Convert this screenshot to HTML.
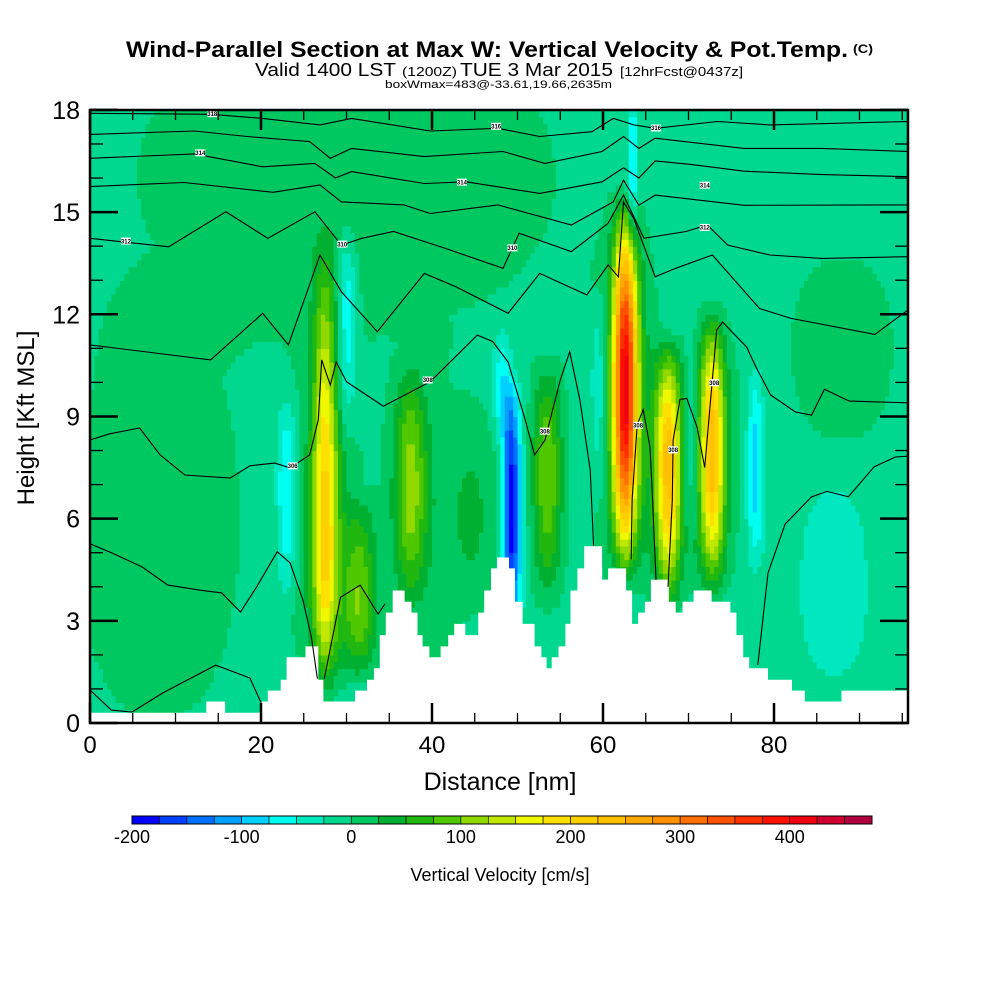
<!DOCTYPE html>
<html><head><meta charset="utf-8"><title>Wind-Parallel Section</title>
<style>
html,body{margin:0;padding:0;background:#fff;}
svg{display:block;font-family:"Liberation Sans",Arial,sans-serif;}
</style></head>
<body>
<svg id="chart" width="1000" height="1000" viewBox="0 0 1000 1000" xmlns="http://www.w3.org/2000/svg">
<rect x="0" y="0" width="1000" height="1000" fill="#fff"/>
<g>
<text x="126" y="57" font-size="22" font-weight="bold" textLength="722" lengthAdjust="spacingAndGlyphs">Wind-Parallel Section at Max W: Vertical Velocity &amp; Pot.Temp.</text>
<text x="853" y="53" font-size="12" font-weight="bold" textLength="20" lengthAdjust="spacingAndGlyphs">(C)</text>
<text x="255" y="76" font-size="18" textLength="141" lengthAdjust="spacingAndGlyphs">Valid 1400 LST</text>
<text x="402" y="76" font-size="13" textLength="55" lengthAdjust="spacingAndGlyphs">(1200Z)</text>
<text x="460" y="76" font-size="18" textLength="153" lengthAdjust="spacingAndGlyphs">TUE 3 Mar 2015</text>
<text x="620" y="76" font-size="13" textLength="123" lengthAdjust="spacingAndGlyphs">[12hrFcst@0437z]</text>
<text x="385" y="88" font-size="11" textLength="227" lengthAdjust="spacingAndGlyphs">boxWmax=483@-33.61,19.66,2635m</text>
</g>
<defs><clipPath id="plotclip"><rect x="90" y="110" width="818" height="613"/></clipPath></defs>
<g id="field" clip-path="url(#plotclip)"></g>
<g id="terrain"></g>
<g id="contours" clip-path="url(#plotclip)"></g>
<g id="axes"></g>
<g id="colorbar"></g>
<text x="500" y="790" font-size="25" text-anchor="middle">Distance [nm]</text>
<text transform="translate(34,418) rotate(-90)" font-size="24" text-anchor="middle">Height [Kft MSL]</text>
<text x="500" y="881" font-size="18" text-anchor="middle">Vertical Velocity [cm/s]</text>
</svg>
<script>
// ---- data ----
const levelColors = ["#0000ff","#0040ff","#0070ff","#00a0ff","#00d0ff","#00fff0","#00e8c0","#00d890","#00c860","#00b030","#20b810","#50c800","#90d800","#c0e800","#f0f800","#ffe000","#ffd000","#ffc000","#ffa800","#ff9000","#ff7000","#ff5000","#ff3000","#ff1000","#f00010","#d00030","#b00040"];
const levelMin = -200;
const levelStep = 25;
const cbTicks = [-200,-100,0,100,200,300,400];
const xTicks = [0,20,40,60,80];
const yTicks = [0,3,6,9,12,15,18];
const backgroundW = -10;
// features: center distance (nm), width (nm), base/peak/top height (kft), amplitude (cm/s)
const featX    = [8, 30, 87, 88, 40, 27.5, 23, 30, 31.5, 37.5, 49.3, 48.2, 53.5, 62.6, 63.5, 67.6, 72.8, 70.3, 77.8, 59.5, 45, 27.5, 62.6, 70];
const featSX   = [7, 18, 3.5, 5, 4, 1.0, 0.8, 0.8, 1.4, 1.3, 0.75, 0.8, 1.2, 1.0, 0.4, 1.0, 1.0, 0.6, 0.7, 0.7, 2, 2.5, 2.5, 4];
const featZB   = [-2, 10, 0, 7, 0, 0.5, 3, 8, 1, 3, 1.5, 8, 3, 4, 13, 3, 3.5, 5, 4, 6, 3, 0.5, 3, 3];
const featZP   = [6, 16, 4, 11, 6, 5.5, 7, 12, 3.5, 7, 6.5, 10, 7.5, 10, 16.5, 7.5, 8, 8, 7.5, 10, 6, 5, 9, 8];
const featZT   = [14, 22, 8.5, 15, 12, 15, 10, 15, 7, 11, 10.5, 12, 11, 15.8, 19, 11.5, 12.5, 12, 11, 13, 10, 13, 15, 12];
const featAmp  = [25, 25, -28, 20, 22, 190, -75, -70, 100, 110, -190, -60, 110, 385, -80, 220, 230, -45, -85, -50, 30, 40, 40, 35];
// terrain steps: start distance (nm) and height (kft)
const terrainX = [0,13.6,15.8,20.1,20.8,22.3,23.0,23.7,25.2,26.7,27.3,31.0,32.4,33.2,33.9,34.6,35.4,36.8,37.6,38.3,38.9,39.7,41.0,41.9,42.6,43.9,45.4,46.1,46.9,47.6,49.0,49.7,50.6,52.0,52.8,53.4,54.0,54.8,55.6,56.2,57.0,57.8,59.9,60.6,62.7,63.4,64.1,64.9,65.6,67.7,68.5,69.3,70.6,72.7,74.9,75.6,76.4,77.1,79.3,82.1,83.6,87.9];
const terrainH = [0.30,0.63,0.30,0.63,0.95,1.27,1.93,1.93,2.25,1.27,0.63,0.95,1.27,1.61,2.58,3.24,3.89,3.56,3.24,2.58,2.25,1.93,2.25,2.58,2.91,2.58,3.24,3.89,4.54,4.86,4.54,3.56,2.91,2.25,1.93,1.61,1.93,2.25,2.91,3.89,4.54,5.19,4.21,4.54,3.89,2.91,3.24,3.56,4.21,3.56,3.24,3.56,3.89,3.56,3.24,2.58,1.93,1.61,1.27,0.95,0.63,0.95];
// theta contours (distance nm, height kft)
const c1D=[0,14.1,20.2,26.9,30.6,39.8,47.7,52.6,58.7,61.2,63.6,66.1,73.4,79.5,95.9];
const c1H=[17.9,17.87,17.75,17.56,17.75,17.38,17.46,17.22,17.36,17.75,17.56,17.46,17.66,17.56,17.66];
const c2D=[0,12.2,18.4,25.7,28.1,30.6,39.1,48.3,53.2,59.9,62.4,64.2,66.1,76.5,85.6,95.9];
const c2H=[17.28,17.38,17.22,17.07,16.58,16.87,16.63,16.78,16.43,16.78,17.22,16.87,17.17,16.87,16.87,16.78];
const c3D=[0,12.2,20.2,26.3,28.7,30.6,39.1,44.0,52.6,59.9,62.4,64.2,66.1,70.3,76.5,85.6,95.9];
const c3H=[16.58,16.71,16.33,16.43,16.0,16.19,15.84,15.89,15.55,15.89,16.3,16.0,16.5,16.4,16.2,16.1,16.04];
const c4D=[0,11,21.4,26.9,29.4,36.7,39.8,47.7,56.3,61.2,62.4,64.2,66.1,76.5,95.9];
const c4H=[15.75,15.87,15.58,15.80,15.30,15.21,14.96,15.21,14.62,15.3,15.94,15.2,15.5,15.2,15.21];
const c5D=[0,9.2,15.9,20.8,26.3,29.4,31.8,35.5,41.6,48.3,50.2,56.3,60.6,62.4,64.8,69.7,72.2,74.6,79.5,85.6,95.9];
const c5H=[14.23,13.98,15.01,14.23,15.01,14.03,14.23,14.43,13.93,13.35,14.38,13.84,14.67,15.5,14.23,14.43,14.62,14.03,13.74,13.64,13.69];
const c6D=[0,14.1,20.2,23.2,26.9,29.4,33.6,39.1,42.8,48.9,52.6,58.1,60.6,61.8,62.4,63.6,66.1,68.5,72.8,78.3,82,91.8,95.9];
const c6H=[11.10,10.66,12.03,11.10,13.74,12.66,11.49,13.20,12.81,12.03,13.20,12.57,13.45,13.1,15.3,14.81,13.10,13.35,13.74,12.17,11.88,11.41,12.17];
const c7D=[0,2.3,5.8,8.2,11.1,16.4,18.7,21.6,23.4,25.7,26.7,27.1,28.1,28.8,30.0,34.3,39.8,45.3,47.1,48.9,50.9,52.0,53.2,55.0,56.1,57.3,58.5,58.9];
const c7H=[8.31,8.49,8.66,7.87,7.28,7.19,7.55,7.63,7.49,7.87,8.9,10.66,9.92,10.6,10.02,9.3,10.02,11.39,11.2,10.6,8.9,7.87,8.3,10.07,10.9,9.48,7.43,5.2];
const c8D=[63.3,63.4,64.0,64.7,65.5,65.8,66.2];
const c8H=[4.8,6.54,8.76,9.2,8.1,6.54,4.2];
const c9D=[67.6,68.1,68.2,69.0,69.8,71.0,71.9,73.3,74.0,75.2,76.8,77.9,79.6,82.5,84.4,85.9,88.8,95.7];
const c9H=[4.0,6.54,8.3,9.5,9.53,8.68,7.5,11.54,11.77,11.45,11.04,10.45,9.63,9.13,9.04,9.8,9.45,9.4];
const c10D=[78.1,79.3,81.3,84.4,86.2,88.7,91.7,94.2,96];
const c10H=[1.7,4.4,5.84,6.64,6.8,6.64,7.52,7.81,7.84];
const c11D=[0,2.5,6.1,9.1,12.9,15.4,17.6,19.5,21.9,23.4,24.9,25.9,26.6];
const c11H=[5.26,5.0,4.58,4.05,3.9,3.82,3.26,4.0,5.03,4.7,3.61,2.52,1.3];
const c12D=[27.4,29.3,31.6,33.7,34.5];
const c12H=[1.3,3.69,4.05,3.2,3.5];
const c13D=[0,2.5,4.9,8.5,14.7,18.7,20.0];
const c13H=[0.97,0.38,0.32,0.88,1.7,1.32,0.6];
const labelD=[14.3,47.5,66.2,12.9,43.5,71.9,4.2,29.5,49.4,71.9,39.5,23.7,53.2,64.1,68.2,73.0];
const labelH=[17.89,17.52,17.47,16.74,15.88,15.79,14.15,14.06,13.95,14.55,10.07,7.55,8.57,8.74,8.02,9.99];
const labelT=["318","316","316","314","314","314","312","310","310","312","308","306","308","308","308","308"];

// ---- scales ----
const NS="http://www.w3.org/2000/svg";
const X0=90, XPN=8.55, Y0=723, YPK=34.06;
function sx(d){return X0+d*XPN;}
function sy(h){return Y0-h*YPK;}
function mk(tag,attrs,parent){const e=document.createElementNS(NS,tag);for(const k in attrs)e.setAttribute(k,attrs[k]);parent.appendChild(e);return e;}
function wAt(d,z){
  let w=backgroundW;
  for(let i=0;i<featX.length;i++){
    if(z<=featZB[i]||z>=featZT[i])continue;
    const t = z<featZP[i] ? (z-featZB[i])/(featZP[i]-featZB[i]) : (featZT[i]-z)/(featZT[i]-featZP[i]);
    const v = Math.sin(Math.min(1,t)*Math.PI/2);
    const dx=(d-featX[i])/featSX[i];
    w+=featAmp[i]*v*Math.exp(-dx*dx/2);
  }
  return w;
}
function levelIndex(w){let k=Math.floor((w-levelMin)/levelStep);return Math.max(0,Math.min(levelColors.length-1,k));}

// ---- field ----
const field=document.getElementById('field');
const dStep=0.5, zStep=0.2;
for(let d=0; d<96; d+=dStep){
  const dc=d+dStep/2;
  let runStart=0, runK=null;
  const nz=Math.round(18/zStep);
  for(let j=0;j<=nz;j++){
    const z=j*zStep;
    const k = j<nz ? levelIndex(wAt(dc,z+zStep/2)) : -1;
    if(k!==runK){
      if(runK!==null && runK>=0){
        const r=mk('rect',{x:sx(d).toFixed(2),y:sy(z).toFixed(2),width:(dStep*XPN+0.6).toFixed(2),height:((z-runStart)*YPK+0.6).toFixed(2),fill:levelColors[runK]},field);
        
        
      }
      runStart=z; runK=k;
    }
  }
}

// ---- terrain ----
const terr=document.getElementById('terrain');
let tp=[[sx(0),sy(0)]];
for(let i=0;i<terrainX.length;i++){
  const x1=sx(terrainX[i]);
  const x2=i+1<terrainX.length?sx(terrainX[i+1]):908;
  tp.push([x1,sy(terrainH[i])]);tp.push([x2,sy(terrainH[i])]);
}
tp.push([908,sy(0)]);
const tpoly=mk('polygon',{points:tp.map(p=>p[0].toFixed(1)+','+p[1].toFixed(1)).join(' '),fill:'#ffffff'},terr);



// ---- contours ----
const cg=document.getElementById('contours');
const lines=[[c1D,c1H],[c2D,c2H],[c3D,c3H],[c4D,c4H],[c5D,c5H],[c6D,c6H],[c7D,c7H],[c8D,c8H],[c9D,c9H],[c10D,c10H],[c11D,c11H],[c12D,c12H],[c13D,c13H]];
lines.forEach((ln,i)=>{
  const pl=mk('polyline',{points:ln[0].map((d,j)=>sx(d).toFixed(1)+','+sy(ln[1][j]).toFixed(1)).join(' '),fill:'none',stroke:'#000','stroke-width':1.1},cg);
  
  
});
labelD.forEach((d,i)=>{
  const g=mk('g',{},cg);
  
  
  mk('rect',{x:sx(d)-5,y:sy(labelH[i])-3.5,width:10,height:7,fill:'#fff'},g);
  const t=mk('text',{x:sx(d),y:sy(labelH[i])+2.2,'font-size':6,'font-weight':'bold','text-anchor':'middle'},g);
  t.textContent=labelT[i];
});

// ---- axes ----
const ax=document.getElementById('axes');
const frame=mk('rect',{x:90,y:110,width:818,height:613,fill:'none',stroke:'#000','stroke-width':2.5},ax);


for(let d=0; d<=95; d+=5){
  const major=(d%20===0), len=major?20:10;
  const t1=mk('line',{x1:sx(d),x2:sx(d),y1:723,y2:723-len,stroke:'#000','stroke-width':major?2.5:1.3},ax);
  
  
  const t2=mk('line',{x1:sx(d),x2:sx(d),y1:110,y2:110+len,stroke:'#000','stroke-width':major?2.5:1.3},ax);
  
  
}
for(let h=0; h<=18; h+=1){
  const major=(h%3===0), len=major?28:13;
  const t1=mk('line',{x1:90,x2:90+len,y1:sy(h),y2:sy(h),stroke:'#000','stroke-width':major?2.5:1.3},ax);
  
  
  const t2=mk('line',{x1:908,x2:908-len,y1:sy(h),y2:sy(h),stroke:'#000','stroke-width':major?2.5:1.3},ax);
  
  
}
xTicks.forEach(v=>{
  const t=mk('text',{x:sx(v),y:753,'font-size':24,'text-anchor':'middle'},ax);
  
  
  t.textContent=v;
});
yTicks.forEach(v=>{
  const t=mk('text',{x:80,y:sy(v)+9,'font-size':25,'text-anchor':'end'},ax);
  
  
  t.textContent=v;
});

// ---- colorbar ----
const cb=document.getElementById('colorbar');
const CB0=132, CBW=(872-132)/levelColors.length;
levelColors.forEach((c,i)=>{
  const r=mk('rect',{x:CB0+i*CBW,y:816,width:CBW,height:8,fill:c,stroke:'#000','stroke-width':0.6},cb);
  
  
});
const cbFrame=mk('rect',{x:CB0,y:816,width:872-CB0,height:8,fill:'none',stroke:'#000','stroke-width':1},cb);


cbTicks.forEach(v=>{
  const t=mk('text',{x:CB0+(v-levelMin)/levelStep*CBW,y:843,'font-size':18,'text-anchor':'middle'},cb);
  
  
  t.textContent=v;
});
</script>
</body></html>
